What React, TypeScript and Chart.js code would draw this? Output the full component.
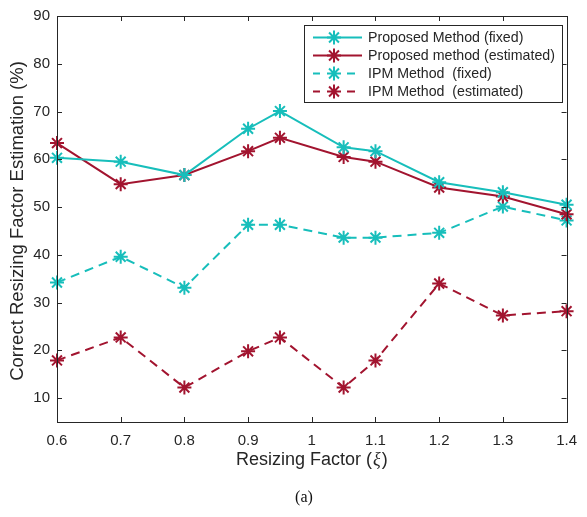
import React, { useEffect, useRef } from "react";
import { Chart, registerables } from "chart.js";

Chart.register(...registerables);

const resizingFactors = [0.6, 0.7, 0.8, 0.9, 0.95, 1.05, 1.1, 1.2, 1.3, 1.4];
const proposedFixed = [60.3, 59.5, 56.7, 66.4, 70.1, 62.5, 61.7, 55.2, 53.1, 50.5];
const proposedEstimated = [63.4, 54.8, 56.7, 61.7, 64.5, 60.5, 59.5, 54.1, 52.2, 48.5];
const ipmFixed = [34.2, 39.6, 33.1, 46.3, 46.3, 43.6, 43.6, 44.6, 50.1, 47.2];
const ipmEstimated = [17.9, 22.7, 12.2, 19.8, 22.7, 12.2, 17.9, 34.0, 27.3, 28.2];
const xTicks = [0.6, 0.7, 0.8, 0.9, 1.0, 1.1, 1.2, 1.3, 1.4];
const xTickLabels = ["0.6", "0.7", "0.8", "0.9", "1", "1.1", "1.2", "1.3", "1.4"];
const yTicks = [10, 20, 30, 40, 50, 60, 70, 80, 90];
const seriesLabels = [
  "Proposed Method (fixed)",
  "Proposed method (estimated)",
  "IPM Method  (fixed)",
  "IPM Method  (estimated)",
];

const CYAN = "#17BEBB";
const RED = "#A2142F";
const TEXT = "#262626";
const FONT = "'Liberation Sans', Arial, sans-serif";

function drawStar(ctx: CanvasRenderingContext2D, x: number, y: number, r: number) {
  const d = r * Math.SQRT1_2;
  ctx.beginPath();
  ctx.moveTo(x - r, y);
  ctx.lineTo(x + r, y);
  ctx.moveTo(x, y - r);
  ctx.lineTo(x, y + r);
  ctx.moveTo(x - d, y - d);
  ctx.lineTo(x + d, y + d);
  ctx.moveTo(x - d, y + d);
  ctx.lineTo(x + d, y - d);
  ctx.stroke();
}

const decorPlugin = {
  id: "decor",
  afterDraw(chart: any) {
    const ctx = chart.ctx as CanvasRenderingContext2D;
    const { left, right, top, bottom } = chart.chartArea;
    const xs = chart.scales.x;
    const ys = chart.scales.y;
    ctx.save();
    // box
    ctx.strokeStyle = TEXT;
    ctx.lineWidth = 1;
    ctx.setLineDash([]);
    ctx.strokeRect(Math.round(left) + 0.5, Math.round(top) + 0.5, Math.round(right - left), Math.round(bottom - top));
    // inward ticks
    const tl = 5;
    ctx.beginPath();
    for (const v of xTicks) {
      const px = Math.round(xs.getPixelForValue(v)) + 0.5;
      ctx.moveTo(px, bottom);
      ctx.lineTo(px, bottom - tl);
      ctx.moveTo(px, top);
      ctx.lineTo(px, top + tl);
    }
    for (const v of yTicks) {
      const py = Math.round(ys.getPixelForValue(v)) + 0.5;
      ctx.moveTo(left, py);
      ctx.lineTo(left + tl, py);
      ctx.moveTo(right, py);
      ctx.lineTo(right - tl, py);
    }
    ctx.stroke();

    // y title
    ctx.fillStyle = TEXT;
    ctx.font = `18.5px ${FONT}`;
    ctx.textAlign = "center";
    ctx.textBaseline = "middle";
    ctx.save();
    ctx.translate(18, 221);
    ctx.rotate(-Math.PI / 2);
    ctx.fillText("Correct Resizing Factor Estimation (%)", 0, 0);
    ctx.restore();

    // x title with italic xi
    const cx = (left + right) / 2;
    const ty = 460.5;
    const p1 = "Resizing Factor (";
    const p2 = "\u03BE";
    const p3 = ")";
    const fs = 18;
    ctx.font = `${fs}px ${FONT}`;
    const w1 = ctx.measureText(p1).width;
    const w3 = ctx.measureText(p3).width;
    ctx.font = `italic ${fs}px 'Liberation Serif', serif`;
    const w2 = ctx.measureText(p2).width + 2;
    let sx = cx - (w1 + w2 + w3) / 2;
    ctx.textAlign = "left";
    ctx.font = `${fs}px ${FONT}`;
    ctx.fillText(p1, sx, ty);
    sx += w1;
    ctx.font = `italic ${fs}px 'Liberation Serif', serif`;
    ctx.fillText(p2, sx + 1, ty);
    sx += w2;
    ctx.font = `${fs}px ${FONT}`;
    ctx.fillText(p3, sx, ty);

    // caption
    ctx.font = `16px 'Liberation Serif', 'Times New Roman', serif`;
    ctx.textAlign = "center";
    ctx.fillStyle = "#111";
    ctx.fillText("(a)", 304, 498);

    // legend
    const bx = 304, by = 25, bw = 258, bh = 77;
    ctx.fillStyle = "#fff";
    ctx.fillRect(bx, by, bw, bh);
    ctx.strokeStyle = TEXT;
    ctx.lineWidth = 1;
    ctx.strokeRect(bx + 0.5, by + 0.5, bw, bh);
    const colors = [CYAN, RED, CYAN, RED];
    const dashed = [false, false, true, true];
    const rowY = [37.5, 55.5, 73.5, 91.5];
    ctx.font = `14.2px ${FONT}`;
    ctx.textAlign = "left";
    ctx.textBaseline = "middle";
    for (let i = 0; i < 4; i++) {
      const y = rowY[i];
      ctx.strokeStyle = colors[i];
      ctx.lineWidth = 2;
      ctx.beginPath();
      if (dashed[i]) {
        ctx.moveTo(313, y);
        ctx.lineTo(320, y);
        ctx.moveTo(347, y);
        ctx.lineTo(355, y);
      } else {
        ctx.moveTo(313, y);
        ctx.lineTo(362, y);
      }
      ctx.stroke();
      drawStar(ctx, 334, y, 7);
      ctx.fillStyle = TEXT;
      ctx.fillText(seriesLabels[i], 368, y + 0.5);
    }
    ctx.restore();
  },
};

export default function App() {
  const ref = useRef<HTMLCanvasElement>(null);
  useEffect(() => {
    if (!ref.current) return;
    const mk = (vals: number[]) => resizingFactors.map((x, i) => ({ x, y: vals[i] }));
    const seriesData = [proposedFixed, proposedEstimated, ipmFixed, ipmEstimated];
    const colors = [CYAN, RED, CYAN, RED];
    const dashed = [false, false, true, true];
    const chart = new Chart(ref.current, {
      type: "line",
      data: {
        datasets: seriesData.map((vals, i) => ({
          label: seriesLabels[i],
          data: mk(vals),
          borderColor: colors[i],
          backgroundColor: colors[i],
          borderWidth: 2,
          borderDash: dashed[i] ? [9, 6] : [],
          pointStyle: "star",
          pointRadius: 7,
          pointBorderWidth: 2,
          pointBorderColor: colors[i],
          tension: 0,
          fill: false,
          clip: false as any,
        })),
      },
      plugins: [decorPlugin],
      options: {
        animation: false,
        responsive: false,
        devicePixelRatio: 1,
        layout: { padding: { top: 10, right: 10, left: 0, bottom: 0 } },
        plugins: { legend: { display: false }, tooltip: { enabled: false } },
        scales: {
          x: {
            type: "linear",
            min: 0.6,
            max: 1.4,
            grid: { display: false, drawTicks: false },
            border: { display: false },
            afterBuildTicks: (s: any) => {
              s.ticks = xTicks.map((v) => ({ value: v }));
            },
            afterFit: (s: any) => {
              s.height = 95;
            },
            ticks: {
              color: TEXT,
              font: { size: 15, family: FONT },
              padding: 10,
              maxRotation: 0,
              autoSkip: false,
              callback: (v: any) => {
                const idx = xTicks.findIndex((t) => Math.abs(t - Number(v)) < 1e-6);
                return idx >= 0 ? xTickLabels[idx] : "";
              },
            },
          },
          y: {
            type: "linear",
            min: 5,
            max: 90,
            grid: { display: false, drawTicks: false },
            border: { display: false },
            afterBuildTicks: (s: any) => {
              s.ticks = yTicks.map((v) => ({ value: v }));
            },
            afterFit: (s: any) => {
              s.width = 57;
            },
            ticks: {
              color: TEXT,
              font: { size: 15, family: FONT },
              padding: 7,
              autoSkip: false,
            },
          },
        },
      },
    });
    return () => chart.destroy();
  }, []);
  return (
    <div style={{ position: "fixed", left: 0, top: 0, width: 587, height: 517, background: "#fff" }}>
      <canvas ref={ref} width={587} height={517} />
    </div>
  );
}
